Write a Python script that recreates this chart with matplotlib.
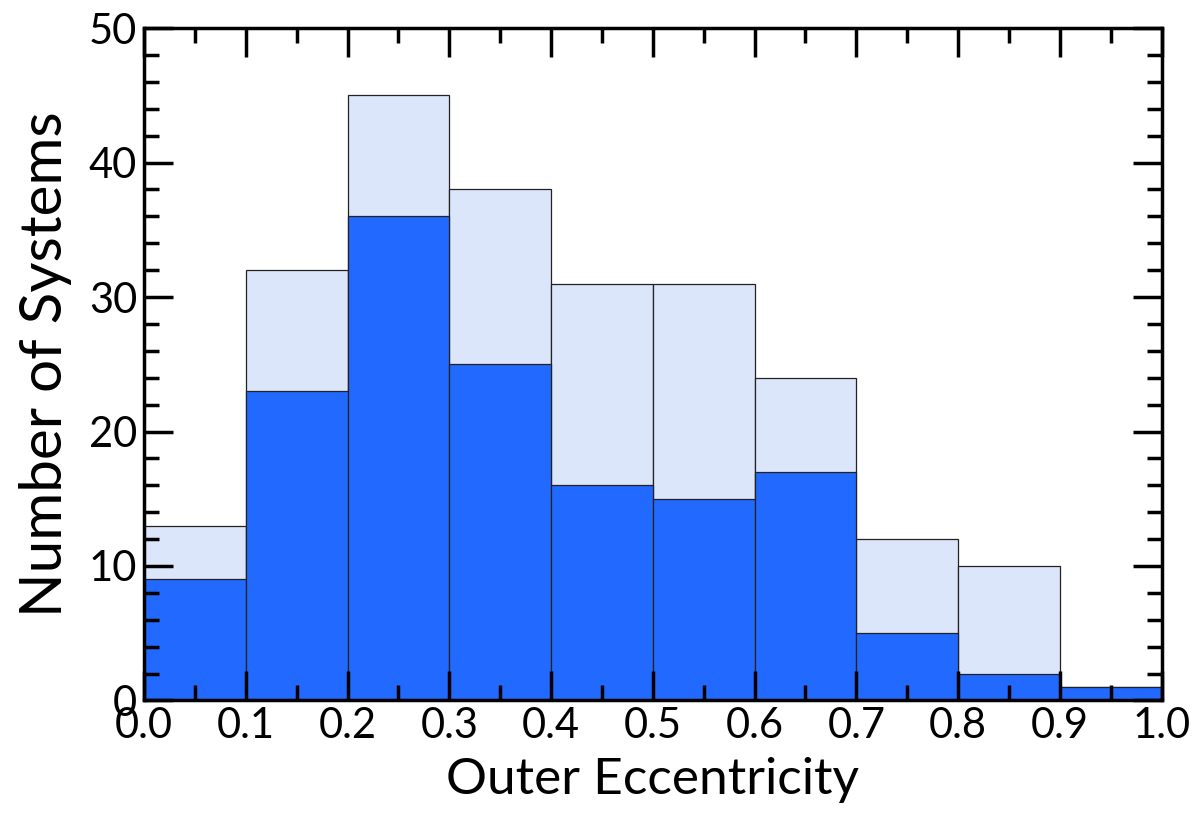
import matplotlib
matplotlib.use("Agg")
import matplotlib.pyplot as plt
from matplotlib.ticker import MultipleLocator

# histogram bins of outer eccentricity
bin_left = [0.0, 0.1, 0.2, 0.3, 0.4, 0.5, 0.6, 0.7, 0.8, 0.9]
total_counts = [13, 32, 45, 38, 31, 31, 24, 12, 10, 1]
subset_counts = [9, 23, 36, 25, 16, 15, 17, 5, 2, 1]

plt.rcParams['font.family'] = ['Lato', 'DejaVu Sans']

fig = plt.figure(figsize=(12, 8.26), dpi=100)
ax = fig.add_axes([0.12, 0.152, 0.848, 0.814])

ax.bar(bin_left, total_counts, width=0.1, align='edge', color='#dce6fb',
       edgecolor='#222222', linewidth=0.9)
ax.bar(bin_left, subset_counts, width=0.1, align='edge', color='#2269ff',
       edgecolor='#222222', linewidth=0.9)

ax.set_xlim(0, 1)
ax.set_ylim(0, 50)
ax.xaxis.set_major_locator(MultipleLocator(0.1))
ax.xaxis.set_minor_locator(MultipleLocator(0.05))
ax.yaxis.set_major_locator(MultipleLocator(10))
ax.yaxis.set_minor_locator(MultipleLocator(2))
ax.xaxis.set_major_formatter(plt.FuncFormatter(lambda v, p: '%.1f' % v))

ax.tick_params(which='both', direction='in', top=True, right=True,
               width=2.5, labelsize=30, pad=5)
ax.tick_params(which='major', length=21)
ax.tick_params(which='minor', length=11)
for sp in ax.spines.values():
    sp.set_linewidth(2.5)

ax.set_xlabel('Outer Eccentricity', fontsize=37, labelpad=8)
ax.set_ylabel('Number of Systems', fontsize=42, labelpad=12)

fig.savefig('out.png', dpi=100)
